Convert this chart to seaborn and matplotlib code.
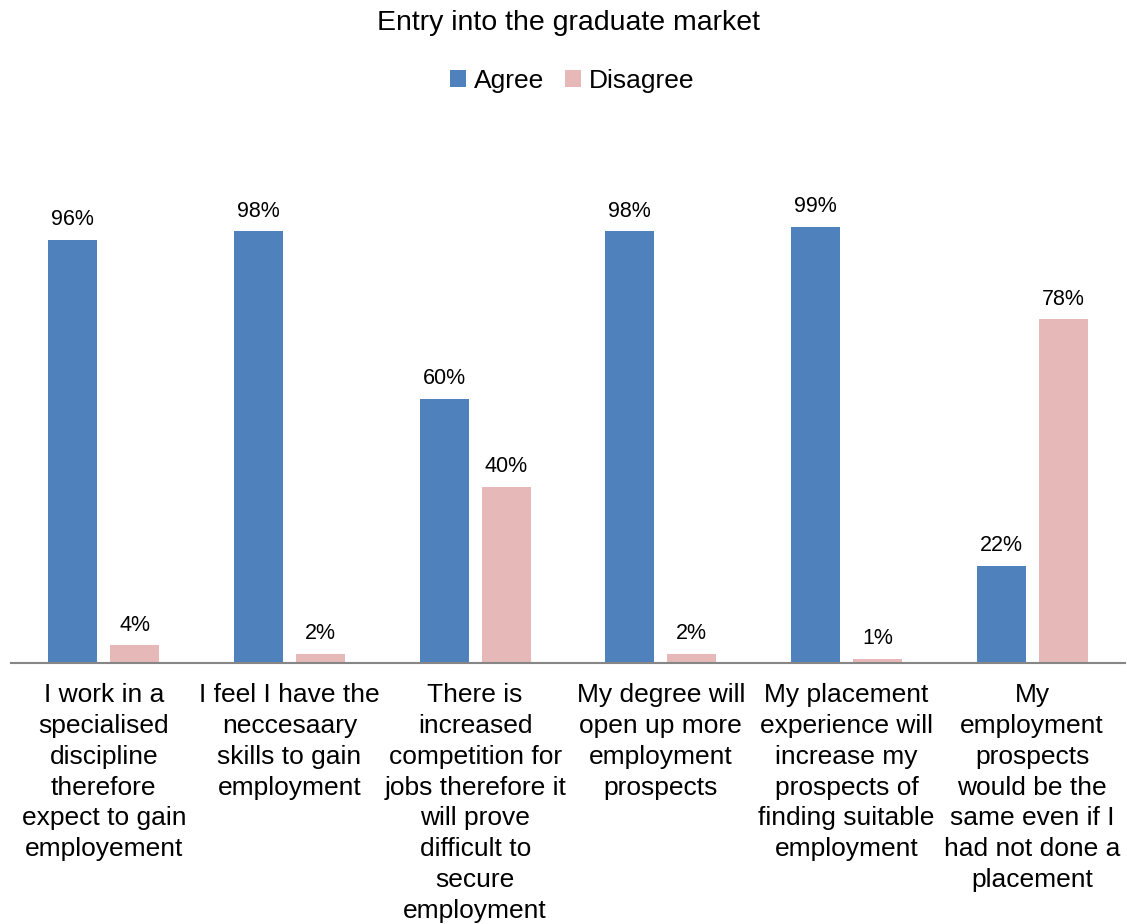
import matplotlib
matplotlib.use("Agg")
import matplotlib.pyplot as plt
import seaborn as sns
import pandas as pd
from matplotlib.patches import Patch

categories = [
    "I work in a\nspecialised\ndiscipline\ntherefore\nexpect to gain\nemployement",
    "I feel I have the\nneccesaary\nskills to gain\nemployment",
    "There is\nincreased\ncompetition for\njobs therefore it\nwill prove\ndifficult to\nsecure\nemployment",
    "My degree will\nopen up more\nemployment\nprospects",
    "My placement\nexperience will\nincrease my\nprospects of\nfinding suitable\nemployment",
    "My\nemployment\nprospects\nwould be the\nsame even if I\nhad not done a\nplacement",
]
agree = [96, 98, 60, 98, 99, 22]
disagree = [4, 2, 40, 2, 1, 78]
series = ["Agree", "Disagree"]
colors = ["#4F81BD", "#E6B9B8"]

df = pd.DataFrame({
    "category": categories * 2,
    "series": [series[0]] * len(categories) + [series[1]] * len(categories),
    "value": agree + disagree,
})

sns.set_style("white")
plt.rcParams["font.family"] = ["Liberation Sans", "DejaVu Sans"]
plt.rcParams["text.color"] = "black"
plt.rcParams["xtick.color"] = "black"

W, H = 1127, 924
fig = plt.figure(figsize=(W / 100, H / 100), dpi=100)
base_y = 663
ymax = 120
px_per_unit = 436 / 99
top_y = base_y - ymax * px_per_unit
ax = fig.add_axes([11 / W, (H - base_y) / H, (1125 - 11) / W, (base_y - top_y) / H])

sns.barplot(data=df, x="category", y="value", hue="series", palette=colors,
            width=0.667, gap=0.21, ax=ax, legend=False, saturation=1, linewidth=0)

ax.set_ylim(0, ymax)
ax.set_xlim(-0.5, len(categories) - 0.5)
ax.set_xlabel("")
ax.set_ylabel("")
ax.set_yticks([])
for s in ["top", "right", "left"]:
    ax.spines[s].set_visible(False)
ax.spines["bottom"].set_color("#868686")
ax.spines["bottom"].set_linewidth(1.5)
ax.tick_params(axis="x", length=0, pad=14.5, labelsize=19, labelcolor="black")
for lbl in ax.get_xticklabels():
    lbl.set_linespacing(1.36)
    lbl.set_verticalalignment("top")

for cont in ax.containers:
    ax.bar_label(cont, fmt="%d%%", padding=7, fontsize=15.5, color="black")

fig.text(0.504, 1 - 23 / H, "Entry into the graduate market", ha="center", va="center",
         fontsize=20.5, color="black")
handles = [Patch(facecolor=c, edgecolor="none") for c in colors]
fig.legend(handles, series, loc="center", bbox_to_anchor=(0.508, 1 - 81 / H), ncol=2,
           frameon=False, fontsize=19, handlelength=0.6, handleheight=0.6,
           handletextpad=0.3, columnspacing=0.8, labelcolor="black")

fig.savefig("out.png", dpi=100)
